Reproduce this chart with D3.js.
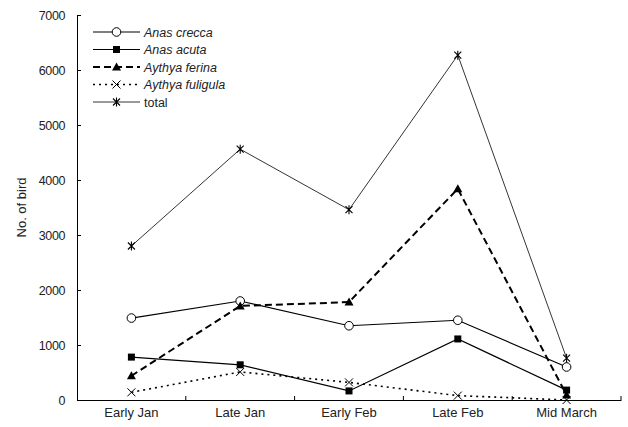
<!DOCTYPE html>
<html>
<head>
<meta charset="utf-8">
<script src="https://cdn.jsdelivr.net/npm/d3@7/dist/d3.min.js"></script>
<style>
  body { margin: 0; background: #fff; }
  svg { display: block; font-family: "Liberation Sans", Arial, sans-serif; }
</style>
</head>
<body>
<div id="chart"></div>
<script>
// Survey periods
const periods = ["Early Jan", "Late Jan", "Early Feb", "Late Feb", "Mid March"];

// Bird counts per period
const anasCrecca = [1490, 1800, 1350, 1450, 600];
const anasAcuta = [780, 640, 165, 1110, 180];
const aythyaFerina = [440, 1710, 1780, 3840, 90];
const aythyaFuligula = [140, 510, 320, 80, 0];
const total = [2800, 4560, 3460, 6270, 760];

const yTicks = [0, 1000, 2000, 3000, 4000, 5000, 6000, 7000];

const width = 628;
const height = 427;
const margin = {top: 15, right: 7, bottom: 27, left: 77};

// Series styles
const series = [
    {name: "Anas crecca", italic: true, values: anasCrecca, marker: "circle", dash: null, stroke: 1.2},
    {name: "Anas acuta", italic: true, values: anasAcuta, marker: "square", dash: null, stroke: 1.2},
    {name: "Aythya ferina", italic: true, values: aythyaFerina, marker: "triangle", dash: "7,4", stroke: 2},
    {name: "Aythya fuligula", italic: true, values: aythyaFuligula, marker: "cross", dash: "2,4", stroke: 1.6},
    {name: "total", italic: false, values: total, marker: "star", dash: null, stroke: 0.8}
];

const svg = d3.select("#chart")
    .append("svg")
    .attr("width", width)
    .attr("height", height);

const x = d3.scaleBand()
    .domain(periods)
    .range([margin.left, width - margin.right])
    .padding(0);

const y = d3.scaleLinear()
    .domain([0, 7000])
    .range([height - margin.bottom, margin.top]);

const cx = d => x(d) + x.bandwidth() / 2;

// Y axis, ticks pointing inward
const yAxis = svg.append("g")
    .attr("transform", `translate(${margin.left},0)`)
    .call(d3.axisLeft(y).tickValues(yTicks).tickFormat(d3.format("d")).tickSize(-4).tickPadding(12));
yAxis.select(".domain").attr("stroke", "#000").attr("stroke-width", 1);
yAxis.selectAll(".tick line").attr("stroke", "#000");
yAxis.selectAll(".tick text")
    .attr("font-size", 12.5)
    .attr("fill", "#222")
    .attr("letter-spacing", -0.4);

// X axis: labels centred in bands, ticks at band edges
const xAxis = svg.append("g")
    .attr("transform", `translate(0,${y(0)})`)
    .call(d3.axisBottom(x).tickSize(0).tickPadding(8));
xAxis.select(".domain").attr("stroke", "#000").attr("stroke-width", 1);
xAxis.selectAll(".tick text")
    .attr("font-size", 13)
    .attr("fill", "#222");
xAxis.selectAll("line.edge")
    .data(periods)
    .enter().append("line")
    .attr("class", "edge")
    .attr("x1", d => x(d) + x.bandwidth())
    .attr("x2", d => x(d) + x.bandwidth())
    .attr("y1", 0)
    .attr("y2", -4)
    .attr("stroke", "#000");

// Y axis title
svg.append("text")
    .attr("transform", `translate(26,${(margin.top + y(0)) / 2}) rotate(-90)`)
    .attr("text-anchor", "middle")
    .attr("font-size", 13)
    .attr("fill", "#222")
    .text("No. of bird");

/**
 * Draw one marker centred at (px, py).
 */
function drawMarker(g, type, px, py) {
    if (type === "circle") {
        g.append("circle").attr("cx", px).attr("cy", py).attr("r", 4.3)
            .attr("fill", "#fff").attr("stroke", "#000").attr("stroke-width", 1);
    } else if (type === "square") {
        g.append("rect").attr("x", px - 3.5).attr("y", py - 3.5)
            .attr("width", 7).attr("height", 7).attr("fill", "#000");
    } else if (type === "triangle") {
        g.append("path")
            .attr("d", `M ${px - 4.5} ${py + 3.5} L ${px + 4.5} ${py + 3.5} L ${px} ${py - 4.5} Z`)
            .attr("fill", "#000");
    } else if (type === "cross") {
        g.append("path")
            .attr("d", `M ${px - 4} ${py - 4} L ${px + 4} ${py + 4} M ${px - 4} ${py + 4} L ${px + 4} ${py - 4}`)
            .attr("stroke", "#000").attr("stroke-width", 1).attr("fill", "none");
    } else if (type === "star") {
        g.append("path")
            .attr("d", `M ${px - 3.5} ${py - 3.5} L ${px + 3.5} ${py + 3.5} M ${px - 3.5} ${py + 3.5} L ${px + 3.5} ${py - 3.5} M ${px} ${py - 4.5} L ${px} ${py + 4.5}`)
            .attr("stroke", "#000").attr("stroke-width", 1.1).attr("fill", "none");
    }
}

const line = d3.line()
    .x((d, i) => cx(periods[i]))
    .y(d => y(d));

// Lines and markers
series.forEach(s => {
    const g = svg.append("g");
    g.append("path")
        .datum(s.values)
        .attr("d", line)
        .attr("fill", "none")
        .attr("stroke", "#000")
        .attr("stroke-width", s.stroke)
        .attr("stroke-dasharray", s.dash);
    s.values.forEach((v, i) => drawMarker(g, s.marker, cx(periods[i]), y(v)));
});

// Legend
const legend = svg.append("g").attr("transform", "translate(93,32)");
series.forEach((s, i) => {
    const row = legend.append("g").attr("transform", `translate(0,${i * 17.5})`);
    row.append("line")
        .attr("x1", 0).attr("x2", 47)
        .attr("stroke", "#000")
        .attr("stroke-width", s.stroke)
        .attr("stroke-dasharray", s.dash);
    drawMarker(row, s.marker, 23.5, 0);
    row.append("text")
        .attr("x", 51)
        .attr("y", 4.5)
        .attr("font-size", 12.5)
        .attr("font-style", s.italic ? "italic" : "normal")
        .attr("fill", "#222")
        .text(s.name);
});
</script>
</body>
</html>
